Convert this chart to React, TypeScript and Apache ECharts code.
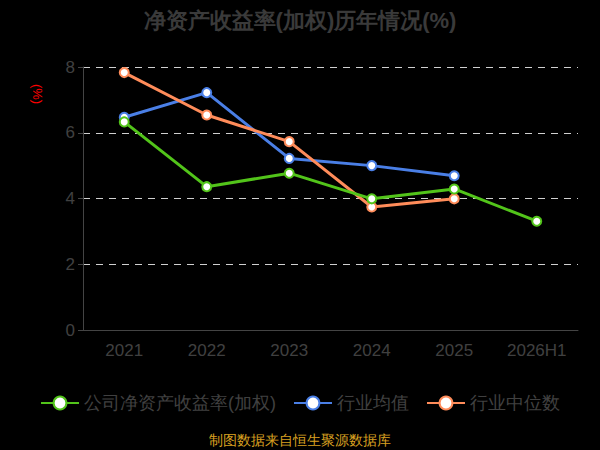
import React, { useEffect, useRef } from "react";
import * as echarts from "echarts";

const categories = ["2021", "2022", "2023", "2024", "2025", "2026H1"];
const companyRoe = [6.33, 4.36, 4.77, 3.99, 4.29, 3.31];
const industryAvg = [6.47, 7.22, 5.22, 5.0, 4.69, null];
const industryMedian = [7.83, 6.54, 5.73, 3.74, 3.99, null];
const seriesNames = ["公司净资产收益率(加权)", "行业均值", "行业中位数"];
const colors = ["#52c41a", "#4a7fe6", "#ff8c5a"];

export default function App() {
  const ref = useRef<HTMLDivElement>(null);
  useEffect(() => {
    if (!ref.current) return;
    const chart = echarts.init(ref.current, null, { renderer: "svg" });
    const datasets = [companyRoe, industryAvg, industryMedian];
    chart.setOption({
      animation: false,
      backgroundColor: "#000000",
      title: {
        text: "净资产收益率(加权)历年情况(%)",
        left: "center",
        top: 4,
        textStyle: { color: "#3a3a3a", fontSize: 22, fontWeight: "bold" },
      },
      grid: { left: 83, right: 22, top: 67, bottom: 120 },
      xAxis: {
        type: "category",
        data: categories,
        axisLine: { lineStyle: { color: "#444" } },
        axisTick: { lineStyle: { color: "#444" }, length: 6 },
        axisLabel: { color: "#404040", fontSize: 17, margin: 12 },
      },
      yAxis: {
        type: "value",
        min: 0,
        max: 8,
        interval: 2,
        axisLine: { show: true, lineStyle: { color: "#444" } },
        axisTick: { show: true, lineStyle: { color: "#444" }, length: 5 },
        axisLabel: { color: "#404040", fontSize: 17, margin: 8 },
        splitLine: { lineStyle: { color: "#d0d0d0", type: [7, 6], width: 1.2 } },
      },
      legend: {
        bottom: 33,
        left: "center",
        itemWidth: 38,
        itemHeight: 16,
        itemGap: 17,
        textStyle: { color: "#404040", fontSize: 18 },
        data: seriesNames,
      },
      graphic: [
        {
          type: "text",
          x: 37,
          y: 94,
          rotation: -Math.PI / 2,
          style: { text: "(%)", fill: "#ff0000", fontSize: 13, align: "center", verticalAlign: "middle" },
        },
        {
          type: "text",
          left: "center",
          top: 433,
          style: { text: "制图数据来自恒生聚源数据库", fill: "#d9a020", fontSize: 13.5 },
        },
      ],
      series: datasets.map((d, i) => ({
        name: seriesNames[i],
        type: "line",
        data: d,
        symbol: "circle",
        symbolSize: 9,
        lineStyle: { color: colors[i], width: 3 },
        itemStyle: { color: "#ffffff", borderColor: colors[i], borderWidth: 2 },
        z: i === 0 ? 4 : 3,
      })),
    });
    return () => chart.dispose();
  }, []);
  return <div ref={ref} style={{ width: 600, height: 450, position: "absolute", left: 0, top: 0 }} />;
}
